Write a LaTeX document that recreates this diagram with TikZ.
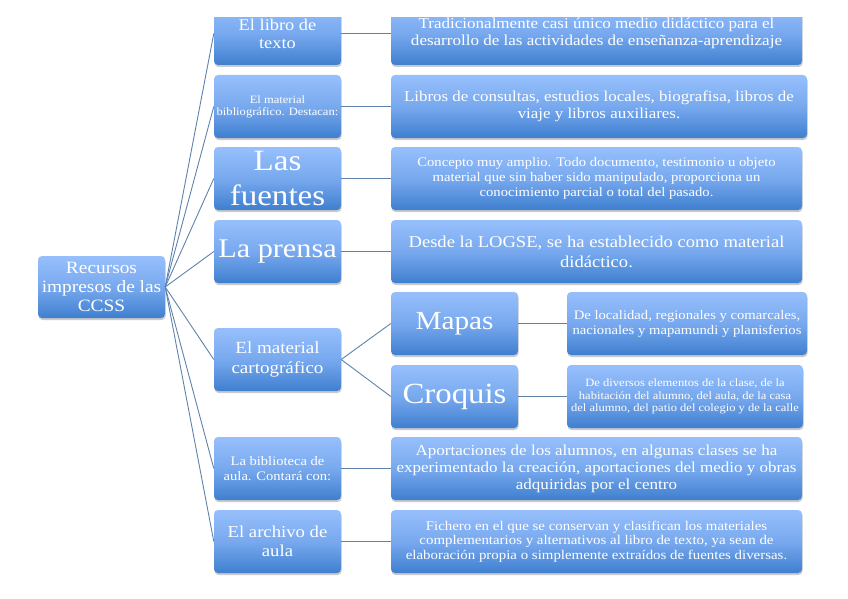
\documentclass[tikz,border=0pt]{standalone}
\usepackage{fontspec}
\setmainfont[FakeStretch=1.12]{Liberation Serif}
\usetikzlibrary{shadows}
\definecolor{boxtop}{HTML}{97BFFC}
\definecolor{boxmid}{HTML}{78A9EE}
\definecolor{boxbot}{HTML}{3F7FCF}
\definecolor{linkc}{HTML}{5F82AC}
\newcommand{\fs}[2]{\fontsize{#1pt}{#2pt}\selectfont}
\tikzset{
  box/.style={rounded corners=4pt, top color=boxtop, bottom color=boxbot, middle color=boxmid,
    draw=none, text=white, align=center, inner sep=0pt,
    drop shadow={shadow xshift=0.6pt, shadow yshift=-2pt, opacity=0.35, fill=black!60},
    minimum height=63pt},
  small/.style={box, minimum width=127pt},
  wide/.style={box, minimum width=411pt},
  link/.style={draw=linkc, line width=0.9pt}
}
\begin{document}
\begin{tikzpicture}[x=1pt,y=-1pt]
\useasboundingbox (0,0) rectangle (848,599);
\begin{scope}
\clip (0,18) rectangle (848,599);
% root
\node[box, minimum width=127pt, minimum height=62pt, font=\fs{17.3}{19}] (root) at (101.5,287) {Recursos\\impresos de las\\CCSS};
% left column
\node[small, font=\fs{16.4}{18}] (l1) at (277.5,33.5) {El libro de\\texto};
\node[small, font=\fs{11.2}{12}] (l2) at (277.5,106.5) {El material\\bibliográfico. Destacan:};
\node[small, font=\fs{29.5}{35}] (l3) at (277.5,178.5) {Las\\fuentes};
\node[small, font=\fs{27}{30}] (l4) at (277.5,251.5) {La prensa};
\node[small, font=\fs{17}{20}] (l5) at (277.5,359.5) {El material\\cartográfico};
\node[small, font=\fs{13}{15}] (l6) at (277.5,468.5) {La biblioteca de\\aula. Contará con:};
\node[small, font=\fs{16.7}{19}] (l7) at (277.5,541.5) {El archivo de\\aula};
% right column
\node[wide, font=\fs{15.2}{17}] (r1) at (596.5,33.5) {Tradicionalmente casi único medio didáctico para el\\desarrollo de las actividades de enseñanza-aprendizaje};
\node[box, minimum width=416pt, font=\fs{15.1}{17.5}] (r2) at (599,106.5) {Libros de consultas, estudios locales, biografisa, libros de\\viaje y libros auxiliares.};
\node[wide, font=\fs{13.1}{15}] (r3) at (596.5,178.5) {Concepto muy amplio. Todo documento, testimonio u objeto\\material que sin haber sido manipulado, proporciona un\\conocimiento parcial o total del pasado.};
\node[wide, font=\fs{16.6}{20}] (r4) at (596.5,251.5) {Desde la LOGSE, se ha establecido como material\\didáctico.};
\node[small, font=\fs{26.1}{30}] (m) at (454.5,323.5) {Mapas};
\node[small, font=\fs{29.3}{34}] (c) at (454.5,396.5) {Croquis};
\node[box, minimum width=240pt, font=\fs{13.1}{15}] (md) at (687,323.5) {De localidad, regionales y comarcales,\\nacionales y mapamundi y planisferios};
\node[box, minimum width=236pt, font=\fs{11.2}{12.5}] (cd) at (685,396.5) {De diversos elementos de la clase, de la\\habitación del alumno, del aula, de la casa\\del alumno, del patio del colegio y de la calle};
\node[wide, font=\fs{15.2}{17}] (r6) at (596.5,468.5) {Aportaciones de los alumnos, en algunas clases se ha\\experimentado la creación, aportaciones del medio y obras\\adquiridas por el centro};
\node[wide, font=\fs{13.3}{14.5}] (r7) at (596.5,541.5) {Fichero en el que se conservan y clasifican los materiales\\complementarios y alternativos al libro de texto, ya sean de\\elaboración propia o simplemente extraídos de fuentes diversas.};
% connectors
\foreach \t in {l1,l2,l3,l4,l5,l6,l7}{\draw[link] (root.east) -- (\t.west);}
\draw[link] (l1.east) -- (r1.west);
\draw[link] (l2.east) -- (r2.west);
\draw[link] (l3.east) -- (r3.west);
\draw[link] (l4.east) -- (r4.west);
\draw[link] (l5.east) -- (m.west);
\draw[link] (l5.east) -- (c.west);
\draw[link] (m.east) -- (md.west);
\draw[link] (c.east) -- (cd.west);
\draw[link] (l6.east) -- (r6.west);
\draw[link] (l7.east) -- (r7.west);
\end{scope}
\end{tikzpicture}
\end{document}
